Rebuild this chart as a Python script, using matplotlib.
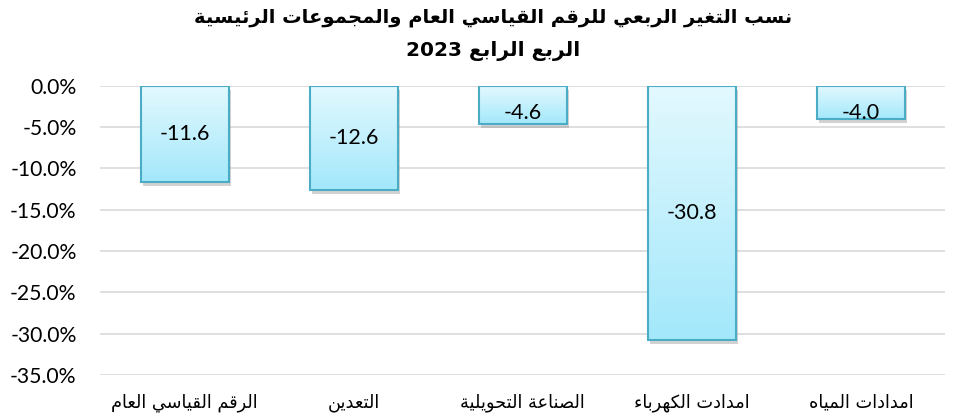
import re
import numpy as np
import matplotlib
matplotlib.use('Agg')
import matplotlib.pyplot as plt
import matplotlib.patheffects as pe
from matplotlib.ticker import FuncFormatter

################################################
################## Data ########################
################################################
categories = ['الرقم القياسي العام', 'التعدين', 'الصناعة التحويلية',
              'امدادت الكهرباء', 'امدادات المياه']
values = [-11.6, -12.6, -4.6, -30.8, -4.0]
title_1 = 'نسب التغير الربعي للرقم القياسي العام والمجموعات الرئيسية'
title_2 = 'الربع الرابع 2023'
yticks = [0, -5, -10, -15, -20, -25, -30, -35]

################################################
####### Arabic shaping (matplotlib has none) ###
################################################
# isolated, final, initial, medial  (None = form does not exist)
FORMS = {
    'ء': (0xFE80, None, None, None),
    'آ': (0xFE81, 0xFE82, None, None),
    'أ': (0xFE83, 0xFE84, None, None),
    'ؤ': (0xFE85, 0xFE86, None, None),
    'إ': (0xFE87, 0xFE88, None, None),
    'ئ': (0xFE89, 0xFE8A, 0xFE8B, 0xFE8C),
    'ا': (0xFE8D, 0xFE8E, None, None),
    'ب': (0xFE8F, 0xFE90, 0xFE91, 0xFE92),
    'ة': (0xFE93, 0xFE94, None, None),
    'ت': (0xFE95, 0xFE96, 0xFE97, 0xFE98),
    'ث': (0xFE99, 0xFE9A, 0xFE9B, 0xFE9C),
    'ج': (0xFE9D, 0xFE9E, 0xFE9F, 0xFEA0),
    'ح': (0xFEA1, 0xFEA2, 0xFEA3, 0xFEA4),
    'خ': (0xFEA5, 0xFEA6, 0xFEA7, 0xFEA8),
    'د': (0xFEA9, 0xFEAA, None, None),
    'ذ': (0xFEAB, 0xFEAC, None, None),
    'ر': (0xFEAD, 0xFEAE, None, None),
    'ز': (0xFEAF, 0xFEB0, None, None),
    'س': (0xFEB1, 0xFEB2, 0xFEB3, 0xFEB4),
    'ش': (0xFEB5, 0xFEB6, 0xFEB7, 0xFEB8),
    'ص': (0xFEB9, 0xFEBA, 0xFEBB, 0xFEBC),
    'ض': (0xFEBD, 0xFEBE, 0xFEBF, 0xFEC0),
    'ط': (0xFEC1, 0xFEC2, 0xFEC3, 0xFEC4),
    'ظ': (0xFEC5, 0xFEC6, 0xFEC7, 0xFEC8),
    'ع': (0xFEC9, 0xFECA, 0xFECB, 0xFECC),
    'غ': (0xFECD, 0xFECE, 0xFECF, 0xFED0),
    'ف': (0xFED1, 0xFED2, 0xFED3, 0xFED4),
    'ق': (0xFED5, 0xFED6, 0xFED7, 0xFED8),
    'ك': (0xFED9, 0xFEDA, 0xFEDB, 0xFEDC),
    'ل': (0xFEDD, 0xFEDE, 0xFEDF, 0xFEE0),
    'م': (0xFEE1, 0xFEE2, 0xFEE3, 0xFEE4),
    'ن': (0xFEE5, 0xFEE6, 0xFEE7, 0xFEE8),
    'ه': (0xFEE9, 0xFEEA, 0xFEEB, 0xFEEC),
    'و': (0xFEED, 0xFEEE, None, None),
    'ى': (0xFEEF, 0xFEF0, None, None),
    'ي': (0xFEF1, 0xFEF2, 0xFEF3, 0xFEF4),
}


def joins_after(c):
    return c in FORMS and FORMS[c][2] is not None


def joins_before(c):
    return c in FORMS and FORMS[c][1] is not None


def ar(text):
    out = []
    for i, c in enumerate(text):
        if c not in FORMS:
            out.append(c)
            continue
        prev = text[i-1] if i > 0 else ''
        nxt = text[i+1] if i+1 < len(text) else ''
        p = joins_after(prev) and joins_before(c)
        n = joins_after(c) and joins_before(nxt)
        iso, fin, ini, med = FORMS[c]
        if p and n:
            code = med
        elif p:
            code = fin
        elif n:
            code = ini
        else:
            code = iso
        out.append(chr(code))
    s = ''.join(out)[::-1]
    return re.sub(r'[0-9.]+', lambda m: m.group(0)[::-1], s)


################################################
################## Plot ########################
################################################
fig = plt.figure(figsize=(9.54, 4.19), dpi=100)
ax = fig.add_axes([0.105, 0.105, 0.886, 0.69])

x = np.arange(len(values))
width = 0.52
bars = ax.bar(x, values, width, color='#c4effc', edgecolor='none', zorder=2,
              path_effects=[pe.SimplePatchShadow(offset=(1.5, -3), shadow_rgbFace='#909090', alpha=0.4),
                            pe.Normal()])

# vertical gradient inside each bar
grad = np.linspace(0, 1, 256).reshape(-1, 1)
top = np.array([0.89, 0.975, 0.997])
bot = np.array([0.64, 0.91, 0.985])
img = top + (bot - top) * grad[..., None]
for b in bars:
    x0, w = b.get_x(), b.get_width()
    h = b.get_height()
    im = ax.imshow(img, extent=(x0, x0 + w, h, 0), aspect='auto', zorder=2.5,
                   interpolation='bilinear')
    im.set_clip_path(b)

ax.bar(x, values, width, color='none', edgecolor='#4bacc6', linewidth=1.5, zorder=3)

for xi, v in zip(x, values):
    ax.text(xi, min(v / 2, -3.3), '%.1f' % v, ha='center', va='center',
            fontsize=15.5, family='Lato', color='black', zorder=4)

ax.set_xlim(-0.5, len(values) - 0.5)
ax.set_ylim(-35, 0)
ax.set_yticks(yticks)
ax.yaxis.set_major_formatter(FuncFormatter(lambda v, p: '%.1f%%' % v))
ax.grid(axis='y', color='#d9d9d9', linewidth=1.2, zorder=0)
ax.set_axisbelow(True)
for s in ax.spines.values():
    s.set_visible(False)
ax.tick_params(axis='both', length=0)
ax.tick_params(axis='y', pad=17, labelsize=15.2)
for t in ax.get_yticklabels():
    t.set_family('Lato')

ax.set_xticks(x)
ax.set_xticklabels([ar(c) for c in categories], family='DejaVu Sans', fontsize=12.8)
ax.tick_params(axis='x', pad=13)

fig.text(0.517, 0.958, ar(title_1), ha='center', va='center', fontsize=14,
         fontweight='bold', family='DejaVu Sans')
fig.text(0.517, 0.878, ar(title_2), ha='center', va='center', fontsize=14.5,
         fontweight='bold', family='DejaVu Sans')

fig.savefig('out.png', dpi=100)
